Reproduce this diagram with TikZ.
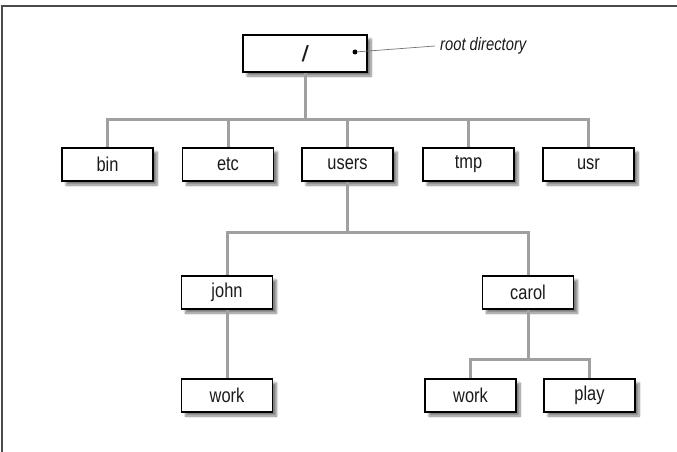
\documentclass[tikz,border=0pt]{standalone}
\usepackage{fontspec}
\setmainfont{Liberation Sans}[FakeStretch=0.82]
\usetikzlibrary{shadows.blur}
\definecolor{linegray}{HTML}{A0A0A0}
\definecolor{txt}{HTML}{1A1A1A}
\begin{document}
\begin{tikzpicture}[x=1pt,y=-1pt,
  box/.style={draw=black, line width=1.7pt, fill=white, inner sep=0pt,
    minimum width=91pt, minimum height=33pt, text=txt,
    font=\fontsize{20}{23}\selectfont,
    blur shadow={shadow xshift=4pt, shadow yshift=-4pt, shadow blur steps=8,
      shadow opacity=50, shadow blur extra rounding=0pt}},
  conn/.style={draw=linegray, line width=3pt},
  frame/.style={draw=black!70, line width=1.5pt}
]
\useasboundingbox (0,0) rectangle (677,452);
\draw[frame] (677,6) -- (2,6) -- (2,452);

% nodes
\node[box, minimum width=124pt, minimum height=37pt,
      font=\bfseries\itshape\fontsize{22}{24}\selectfont] (root) at (305,53.5) {/};
\node[box] (bin)   at (107.5,164.5) {bin};
\node[box] (etc)   at (228,164.5)   {etc};
\node[box] (users) at (347.5,164.5) {users};
\node[box] (tmp)   at (468.5,164.5) {tmp};
\node[box] (usr)   at (588.5,164.5) {usr};
\node[box] (john)  at (227,292.5)   {john};
\node[box] (carol) at (528,292.5)   {carol};
\node[box] (jwork) at (227,395.5)   {work};
\node[box] (cwork) at (470.5,395.5) {work};
\node[box] (play)  at (589.5,395.5) {play};

% connectors
\foreach \c in {bin,etc,users,tmp,usr}
  \draw[conn] (root.south) -- ++(0,47) -| (\c.north);
\foreach \c in {john,carol}
  \draw[conn] (users.south) -- ++(0,51) -| (\c.north);
\draw[conn] (john.south) -- (jwork.north);
\foreach \c in {cwork,play}
  \draw[conn] (carol.south) -- ++(0,50) -| (\c.north);

% annotation
\node[circle, fill=black, inner sep=0pt, minimum size=5pt] (dot) at (355,52) {};
\node[anchor=west, inner sep=0pt, text=txt,
      font=\itshape\fontsize{18}{20}\selectfont] (rd) at (440,46) {root directory};
\draw[black!55, line width=0.7pt] (dot) -- ([xshift=-5pt]rd.west);
\end{tikzpicture}
\end{document}
